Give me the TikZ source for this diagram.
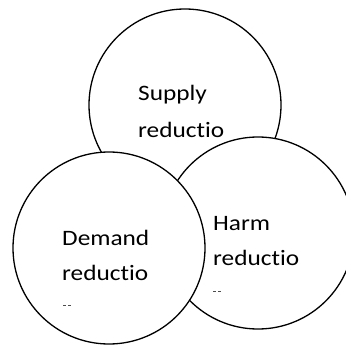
\documentclass[tikz,border=0pt]{standalone}
\usepackage{fontspec}
\newfontfamily\vennfont[FakeStretch=1.15,Ligatures={NoCommon,NoContextual}]{Carlito}
\tikzset{
	ring/.style={circle,draw,fill=white,line width=1.3pt,minimum size=192pt,inner sep=0pt},
	word/.style={anchor=base west,inner sep=0pt,font=\vennfont\fontsize{22}{36}\selectfont},
	cut/.style={black!70,line width=0.7pt,dash pattern=on 3pt off 2pt}
}

\begin{document}
\begin{tikzpicture}[x=1pt,y=-1pt]
			\useasboundingbox (0,0) rectangle (346,345);
			\clip (0,0) rectangle (346,345);
			
			\node[ring] (supply) at (185,105) {};
			\node[ring] (harm) at (258,233) {};
			\node[ring] (demand) at (109,248) {};
			
			\node[word] (supplyA) at (138,101) {Supply};
			\node[word] (supplyB) at (138,138) {reductio};
			\node[word] (harmA) at (213,230) {Harm};
			\node[word] (harmB) at (213,265) {reductio};
			\node[word] (demandA) at (62,245) {Demand};
			\node[word] (demandB) at (62,280) {reductio};
			
			\draw[cut] (213,291) -- (222,291);
			\draw[cut] (63,305) -- (72,305);
		\end{tikzpicture}
\end{document}
